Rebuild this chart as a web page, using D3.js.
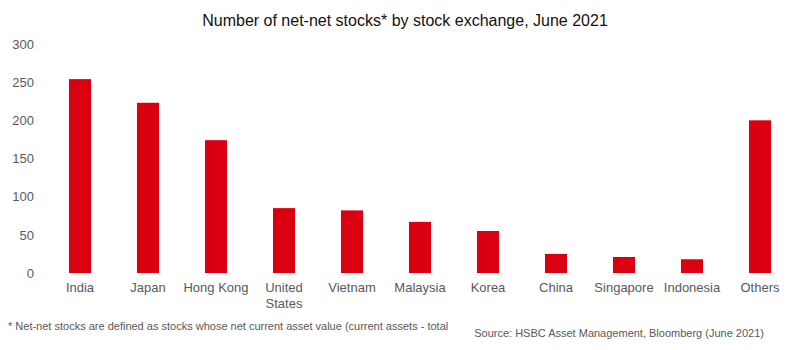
<!DOCTYPE html>
<html><head><meta charset="utf-8">
<script src="https://cdn.jsdelivr.net/npm/d3@7"></script>
<style>body{margin:0;background:#fff;} text{font-family:"Liberation Sans",Arial,sans-serif;}</style>
</head><body>
<svg id="c" width="799" height="350"></svg>
<script>
const categories = ["India","Japan","Hong Kong","United States","Vietnam","Malaysia","Korea","China","Singapore","Indonesia","Others"];
const values = [254, 223, 174, 85, 82, 67, 55, 25, 21, 18, 200];
const yTicks = [0, 50, 100, 150, 200, 250, 300];
const title = "Number of net-net stocks* by stock exchange, June 2021";
const footnote = "* Net-net stocks are defined as stocks whose net current asset value (current assets - total";
const source = "Source: HSBC Asset Management, Bloomberg (June 2021)";

const svg = d3.select("#c");
const x = d3.scaleBand().domain(categories).range([46, 794]).paddingInner(0.676).paddingOuter(0.338);
const y = d3.scaleLinear().domain([0, 300]).range([273, 44]);

svg.append("text").attr("x", 405).attr("y", 26).attr("text-anchor", "middle")
  .attr("font-size", 16).attr("fill", "#111").text(title);

const ya = svg.append("g").attr("transform", "translate(38,0)")
  .call(d3.axisLeft(y).tickValues(yTicks).tickSize(0).tickPadding(4));
ya.select(".domain").remove();
ya.selectAll("text").attr("font-size", 13).attr("fill", "#595959").style("font-family", "Liberation Sans, Arial, sans-serif");

svg.selectAll("rect.bar").data(values).join("rect").attr("class", "bar")
  .attr("x", (d, i) => x(categories[i])).attr("width", x.bandwidth())
  .attr("y", d => y(d)).attr("height", d => y(0) - y(d)).attr("fill", "#DB0011");

const xa = svg.append("g").attr("transform", "translate(0,273)")
  .call(d3.axisBottom(x).tickSize(0).tickPadding(10));
xa.select(".domain").remove();
xa.selectAll("text").attr("font-size", 13).attr("fill", "#595959").style("font-family", "Liberation Sans, Arial, sans-serif")
  .each(function(d) {
    const t = d3.select(this);
    if (d === "United States") {
      t.text(null);
      t.append("tspan").attr("x", 0).attr("dy", "0.71em").text("United");
      t.append("tspan").attr("x", 0).attr("dy", "1.2em").text("States");
      t.attr("dy", null);
    }
  });

svg.append("text").attr("x", 8).attr("y", 330).attr("font-size", 11).attr("fill", "#595959").text(footnote);
svg.append("text").attr("x", 764).attr("y", 337).attr("text-anchor", "end").attr("font-size", 11).attr("fill", "#595959").text(source);
</script>
</body></html>
